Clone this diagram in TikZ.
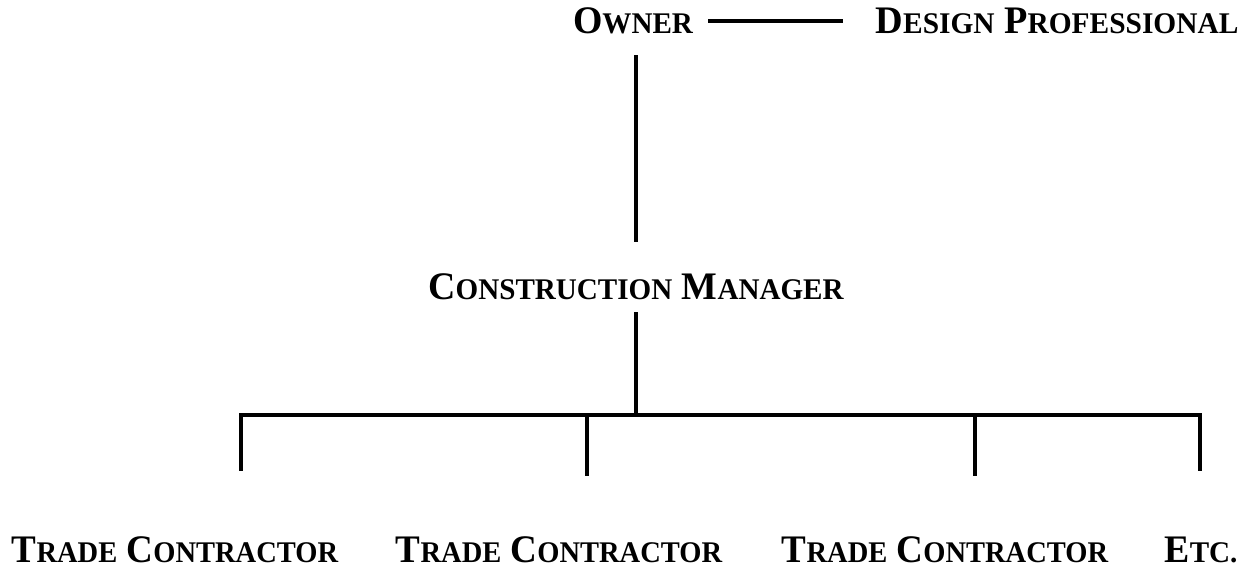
\documentclass[tikz,border=0pt]{standalone}
\usepackage{fontspec}
\setmainfont{Liberation Serif}
\newcommand\scx[2]{{\fontsize{39}{39}\selectfont #1}{\fontsize{30}{30}\selectfont #2}}
\newcommand\narrow[2]{\scalebox{#1}[1]{#2}}
\begin{document}
\begin{tikzpicture}[x=1pt,y=-1pt,
  lbl/.style={inner sep=0pt,outer sep=0pt,anchor=base,font=\bfseries\fontsize{39}{39}\selectfont},
  conn/.style={line width=3.7pt,line cap=butt},
  barline/.style={line width=4.3pt,line cap=butt}]
\useasboundingbox (0,0) rectangle (1251,571);
% nodes
\node[lbl] (owner) at (633,33) {\narrow{0.97}{\scx{O}{WNER}}};
\node[lbl] (design) at (1057,33) {\narrow{0.98}{\scx{D}{ESIGN} \scx{P}{ROFESSIONAL}}};
\node[lbl] (cm) at (636,299) {\narrow{0.97}{\scx{C}{ONSTRUCTION} \scx{M}{ANAGER}}};
\node[lbl] (tc1) at (175,562) {\narrow{0.95}{\scx{T}{RADE} \scx{C}{ONTRACTOR}}};
\node[lbl] (tc2) at (559,562) {\narrow{0.95}{\scx{T}{RADE} \scx{C}{ONTRACTOR}}};
\node[lbl] (tc3) at (945,562) {\narrow{0.95}{\scx{T}{RADE} \scx{C}{ONTRACTOR}}};
\node[lbl] (etc) at (1201,562) {\narrow{0.97}{\scx{E}{TC.}}};
% connector points
\coordinate (h1) at (708,21);
\coordinate (h2) at (843,21);
\coordinate (s1) at (636,55);
\coordinate (s2) at (636,242);
\coordinate (s3) at (636,312);
\coordinate (s4) at (636,415);
\coordinate (bl) at (239.15,415);
\coordinate (br) at (1201.85,415);
\coordinate (v1t) at (241,415);
\coordinate (v1b) at (241,471);
\coordinate (v2t) at (587,415);
\coordinate (v2b) at (587,476);
\coordinate (v3t) at (975,415);
\coordinate (v3b) at (975,476);
\coordinate (v4t) at (1200,415);
\coordinate (v4b) at (1200,471);
% connectors
\draw[conn] (h1) -- (h2);
\draw[conn] (s1) -- (s2);
\draw[conn] (s3) -- (s4);
\draw[barline] (bl) -- (br);
\draw[conn] (v1t) -- (v1b);
\draw[conn] (v2t) -- (v2b);
\draw[conn] (v3t) -- (v3b);
\draw[conn] (v4t) -- (v4b);
\end{tikzpicture}
\end{document}
